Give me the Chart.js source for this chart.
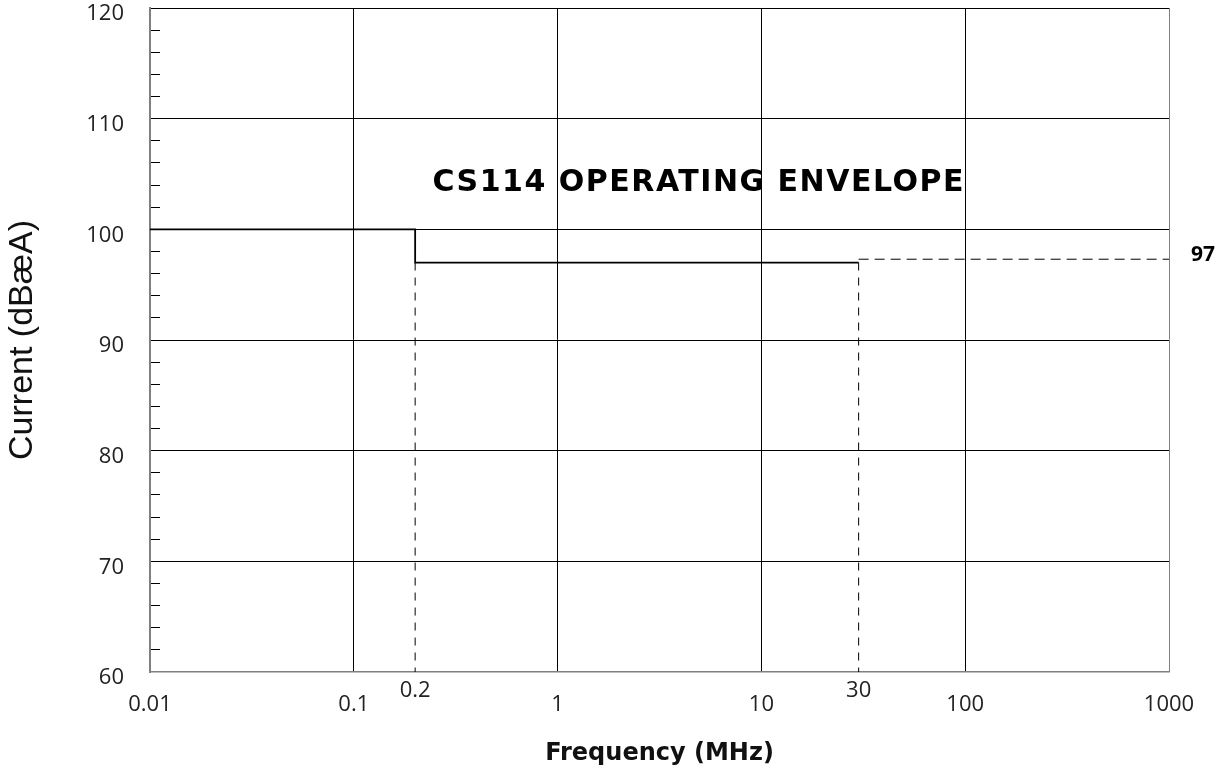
<!DOCTYPE html>
<html>
<head>
<meta charset="utf-8">
<script src="https://cdn.jsdelivr.net/npm/chart.js@4/dist/chart.umd.min.js"></script>
<style>
  html, body { margin: 0; padding: 0; background: #fff; }
  #wrap { width: 1221px; height: 772px; position: relative; }
</style>
</head>
<body>
<div id="wrap"><canvas id="c" width="1221" height="772"></canvas></div>
<script>
// ---- data ----
const chartTitle = 'CS114 OPERATING ENVELOPE';
const xTitle = 'Frequency (MHz)';
const yTitle = 'Current (dBæA)';

const xTickValues = [0.01, 0.1, 0.2, 1, 10, 30, 100, 1000];
const xTickLabels = ['0.01', '0.1', '0.2', '1', '10', '30', '100', '1000'];
const xRaisedLabels = ['0.2', '30'];

const yMin = 60, yMax = 120, yMinorStep = 2, yMajorStep = 10;

// solid limit line
const limitFreq  = [0.01, 0.2, 0.2, 30];
const limitLevel = [100, 100, 97, 97];
// dashed extension
const extFreq  = [30, 1000];
const extLevel = [97.3, 97.3];
// dashed vertical markers
const marker1Freq  = [0.2, 0.2];
const marker1Level = [97, 60];
const marker2Freq  = [30, 30];
const marker2Level = [97, 60];
const endLabel = '97';

const toPts = (xs, ys) => xs.map((v, i) => ({ x: v, y: ys[i] }));

const annotate = {
  id: 'annotate',
  afterDraw(chart) {
    const { ctx, chartArea, scales } = chart;
    ctx.save();
    ctx.fillStyle = '#000';
    ctx.font = 'bold 30px "DejaVu Sans"';
    try { ctx.letterSpacing = '1.5px'; } catch (e) {}
    ctx.textAlign = 'center';
    ctx.textBaseline = 'alphabetic';
    const tx = chartArea.left + (chartArea.right - chartArea.left) * 0.5385;
    const ty = chartArea.top + (chartArea.bottom - chartArea.top) * 0.2755;
    ctx.fillText(chartTitle, tx, ty);
    try { ctx.letterSpacing = '0px'; } catch (e) {}
    ctx.font = 'bold 21px "Open Sans"';
    ctx.textAlign = 'left';
    ctx.textBaseline = 'middle';
    ctx.fillText(endLabel, chartArea.right + 22, scales.y.getPixelForValue(extLevel[0]) - 4);
    ctx.restore();
  }
};

new Chart(document.getElementById('c'), {
  type: 'scatter',
  data: {
    datasets: [
      { data: toPts(limitFreq, limitLevel), showLine: true, borderColor: '#000', borderWidth: 1.8, pointRadius: 0, fill: false },
      { data: toPts(extFreq, extLevel), showLine: true, borderColor: '#000', borderWidth: 1, borderDash: [10, 6], pointRadius: 0 },
      { data: toPts(marker1Freq, marker1Level), showLine: true, borderColor: '#000', borderWidth: 1, borderDash: [8, 7], pointRadius: 0 },
      { data: toPts(marker2Freq, marker2Level), showLine: true, borderColor: '#000', borderWidth: 1, borderDash: [8, 7], pointRadius: 0 }
    ]
  },
  options: {
    responsive: false,
    animation: false,
    layout: { padding: { top: 8, right: 52, left: 0, bottom: 0 } },
    plugins: { legend: { display: false }, tooltip: { enabled: false }, title: { display: false } },
    scales: {
      x: {
        type: 'logarithmic',
        min: 0.01, max: 1000,
        afterBuildTicks(scale) { scale.ticks = xTickValues.map(v => ({ value: v })); },
        afterFit(scale) { scale.height = 100; },
        ticks: {
          autoSkip: false, maxRotation: 0, minRotation: 0,
          padding: 12,
          color: '#222',
          font: { family: '"Open Sans"', size: 22, lineHeight: 0.62 },
          callback(value, index) {
            const lab = xTickLabels[index];
            return xRaisedLabels.includes(lab) ? lab : ['', lab];
          }
        },
        grid: {
          drawTicks: false,
          lineWidth: 1,
          color(ctx) {
            const lab = xTickLabels[ctx.index];
            if (xRaisedLabels.includes(lab) || ctx.index === 0) return 'rgba(0,0,0,0)';
            if (ctx.index === xTickLabels.length - 1) return '#808080';
            return '#000';
          }
        },
        border: { color: '#808080', width: 1.5 },
        title: {
          display: true, text: xTitle, color: '#111',
          font: { family: '"DejaVu Sans"', size: 24, weight: 'bold', lineHeight: 1.2 },
          padding: { top: 0, bottom: 4 }
        }
      },
      y: {
        type: 'linear',
        min: yMin, max: yMax,
        afterFit(scale) {
          scale.width = 150;
          scale.paddingTop = 0;
          scale.paddingBottom = 0;
        },
        ticks: {
          stepSize: yMinorStep, autoSkip: false,
          padding: 36,
          color: '#222',
          font: { family: '"Open Sans"', size: 22, lineHeight: 0.55 },
          callback(value) { return value % yMajorStep === 0 ? ['', String(value)] : ''; }
        },
        grid: {
          drawTicks: true,
          tickLength: -10,
          lineWidth: 1,
          tickWidth: 1,
          color(ctx) {
            const v = ctx.tick ? ctx.tick.value : 0;
            return (v % yMajorStep === 0 && v !== yMin) ? '#000' : 'rgba(0,0,0,0)';
          },
          tickColor(ctx) {
            const v = ctx.tick ? ctx.tick.value : 0;
            return v % yMajorStep === 0 ? 'rgba(0,0,0,0)' : '#000';
          }
        },
        border: { color: '#808080', width: 2 },
        title: {
          display: true, text: yTitle, color: '#111',
          font: { family: '"Liberation Sans"', size: 34, weight: 'normal', lineHeight: 1.2 },
          padding: { top: 2, bottom: 0 }
        }
      }
    }
  },
  plugins: [annotate]
});
</script>
</body>
</html>
